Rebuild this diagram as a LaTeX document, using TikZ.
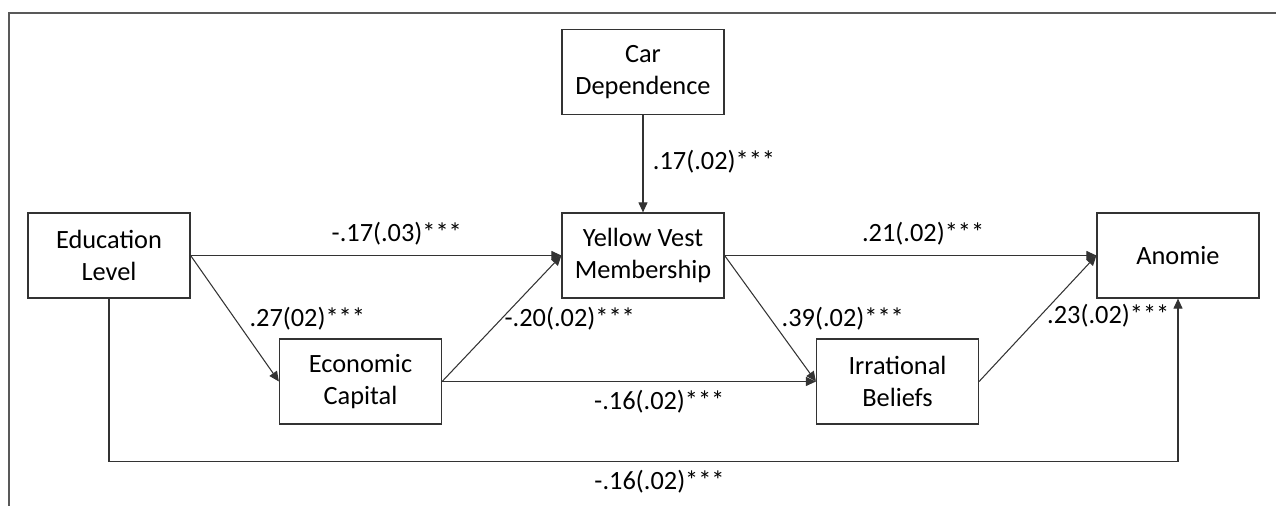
\documentclass[tikz,border=0pt]{standalone}
\usepackage{fontspec}
\setmainfont{Carlito}
\usetikzlibrary{arrows.meta}

\begin{document}
\begin{tikzpicture}[x=0.02cm, y=-0.02cm, >={Triangle[length=2mm, width=1.8mm]},
        var/.style={draw=black!80, line width=0.7pt, rectangle, align=center,
            minimum width=3.24cm, minimum height=1.7cm, font=\fontsize{15}{18.2}\selectfont},
        coef/.style={inner sep=0pt, font=\fontsize{15}{18}\selectfont},
        link/.style={->, draw=black!80, line width=0.6pt}]
                \useasboundingbox (0,0) rectangle (1276,506);

                % Frame
                \draw[black!65, line width=0.8pt] (9,506) -- (9,13) -- (1276,13);

                % Nodes
                \node[var] at (109, 255.5) (edu) {Education\\Level};
                \node[var] at (360.5, 381.5) (econ) {Economic\\Capital};
                \node[var] at (643, 72) (car) {Car\\Dependence};
                \node[var] at (643, 255.5) (yvm) {Yellow Vest\\Membership};
                \node[var] at (897.5, 381.5) (irr) {Irrational\\Beliefs};
                \node[var] at (1178, 255.5) (anom) {Anomie};

                % Edges
                \draw[link] (edu.east) -- (yvm.west)
                    node[coef, pos=0.556, yshift=0.44cm] {-.17(.03)***};

                \draw[link] (edu.east) -- (econ.west)
                    node[coef, midway, xshift=1.45cm] {.27(02)***};

                \draw[link] (car.south) -- (yvm.north)
                    node[coef, midway, xshift=1.42cm, yshift=0.04cm] {.17(.02)***};

                \draw[link] (econ.east) -- (yvm.west)
                    node[coef, midway, xshift=1.36cm] {-.20(.02)***};

                \draw[link] (econ.east) -- (irr.west)
                    node[coef, pos=0.581, yshift=-0.4cm] {-.16(.02)***};

                \draw[link] (yvm.east) -- (irr.west)
                    node[coef, midway, xshift=1.45cm] {.39(.02)***};

                \draw[link] (yvm.east) -- (anom.west)
                    node[coef, pos=0.534, yshift=0.44cm] {.21(.02)***};

                \draw[link] (irr.east) -- (anom.west)
                    node[coef, midway, xshift=1.41cm, yshift=0.05cm] {.23(.02)***};

                \draw[link] (edu.south) -- ++(0,163) -| (anom.south)
                    node[coef, pos=0.2575, yshift=-0.4cm] {-.16(.02)***};
\end{tikzpicture}
\end{document}
